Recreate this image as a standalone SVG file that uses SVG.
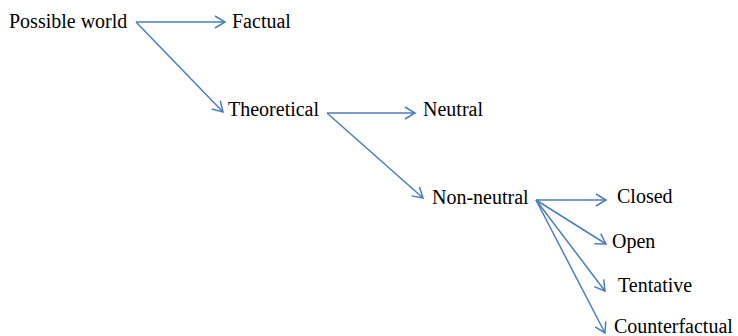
<svg xmlns="http://www.w3.org/2000/svg" width="738" height="336" viewBox="0 0 738 336">
<style>
text{font-family:"Liberation Serif","Times New Roman",serif;font-size:20px;fill:#000}
.c line{stroke:#4a7ebb;stroke-width:1.5;fill:none;marker-end:url(#a)}
</style>
<defs>
<marker id="a" markerUnits="userSpaceOnUse" markerWidth="14" markerHeight="14" viewBox="0 0 14 14" refX="12" refY="7" orient="auto">
<path d="M2,1 L12,7 L2,13" fill="none" stroke="#4a7ebb" stroke-width="1.5"/>
</marker>
</defs>
<rect width="738" height="336" fill="#fff"/>
<g class="c" id="connectors">
<line x1="136" y1="22" x2="225" y2="22"/>
<line x1="136" y1="22" x2="223" y2="112"/>
<line x1="327" y1="113" x2="415" y2="113"/>
<line x1="327" y1="113" x2="423" y2="198"/>
<line x1="536" y1="200" x2="606" y2="200"/>
<line x1="536" y1="200" x2="606" y2="244"/>
<line x1="536" y1="200" x2="605" y2="291"/>
<line x1="536" y1="200" x2="605" y2="333"/>
</g>
<g id="possible-world"><text x="9" y="28">Possible world</text></g>
<g id="factual"><text x="232" y="28">Factual</text></g>
<g id="theoretical"><text x="228" y="116">Theoretical</text></g>
<g id="neutral"><text x="423" y="116">Neutral</text></g>
<g id="non-neutral"><text x="432" y="204">Non-neutral</text></g>
<g id="closed"><text x="617" y="203">Closed</text></g>
<g id="open"><text x="612" y="248">Open</text></g>
<g id="tentative"><text x="618" y="292">Tentative</text></g>
<g id="counterfactual"><text x="614" y="333">Counterfactual</text></g>
</svg>
